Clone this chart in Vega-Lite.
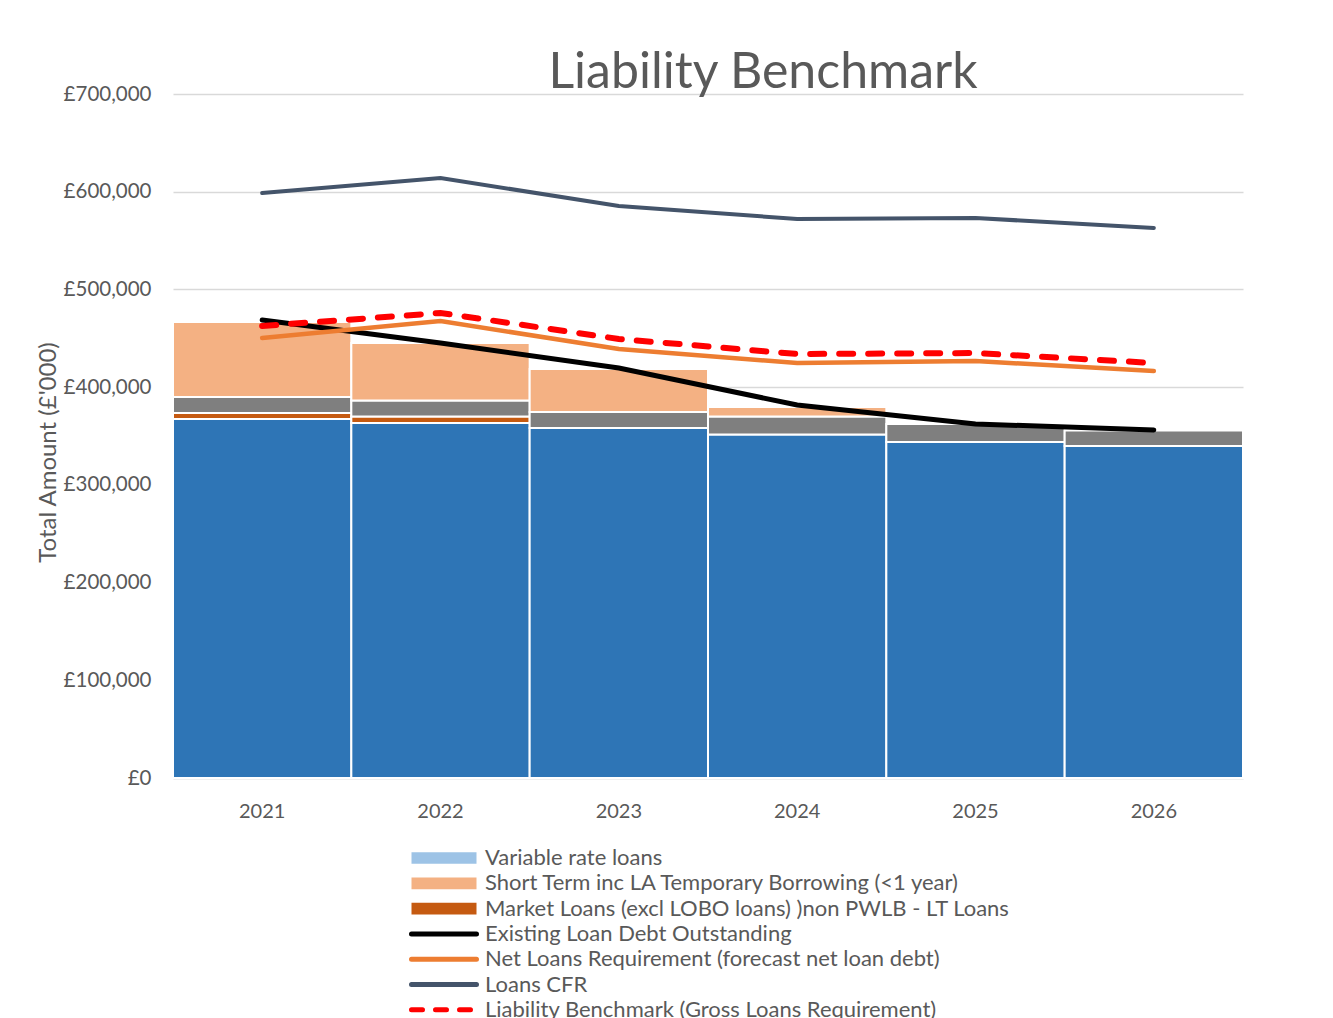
{
  "$schema": "https://vega.github.io/schema/vega-lite/v6.json",
  "autosize": {"type": "none"},
  "width": 1070,
  "height": 684,
  "padding": {"left": 173, "top": 94, "right": 90, "bottom": 240},
  "background": "white",
  "config": {"view": {"stroke": null}, "font": "Lato"},
  "title": {"text": "Liability Benchmark", "fontSize": 50, "font": "Lato", "fontWeight": "normal", "color": "#595959", "anchor": "middle", "dx": 55, "dy": 56, "offset": 2, "baseline": "alphabetic"},
  "datasets": {
    "bars": [
      {"year": "2021", "series": "PWLB Loans", "value": 367400},
      {"year": "2021", "series": "Market Loans (excl LOBO loans) )non PWLB - LT Loans", "value": 6100},
      {"year": "2021", "series": "LOBO Loans", "value": 16400},
      {"year": "2021", "series": "Short Term inc LA Temporary Borrowing (<1 year)", "value": 76800},
      {"year": "2022", "series": "PWLB Loans", "value": 363300},
      {"year": "2022", "series": "Market Loans (excl LOBO loans) )non PWLB - LT Loans", "value": 6600},
      {"year": "2022", "series": "LOBO Loans", "value": 16400},
      {"year": "2022", "series": "Short Term inc LA Temporary Borrowing (<1 year)", "value": 58800},
      {"year": "2023", "series": "PWLB Loans", "value": 358200},
      {"year": "2023", "series": "LOBO Loans", "value": 16400},
      {"year": "2023", "series": "Short Term inc LA Temporary Borrowing (<1 year)", "value": 44000},
      {"year": "2024", "series": "PWLB Loans", "value": 351500},
      {"year": "2024", "series": "LOBO Loans", "value": 18400},
      {"year": "2024", "series": "Short Term inc LA Temporary Borrowing (<1 year)", "value": 9700},
      {"year": "2025", "series": "PWLB Loans", "value": 343900},
      {"year": "2025", "series": "LOBO Loans", "value": 18400},
      {"year": "2026", "series": "PWLB Loans", "value": 339800},
      {"year": "2026", "series": "LOBO Loans", "value": 15900}
    ],
    "lines": [
      {"year": "2021", "series": "Loans CFR", "value": 598700},
      {"year": "2022", "series": "Loans CFR", "value": 614000},
      {"year": "2023", "series": "Loans CFR", "value": 585400},
      {"year": "2024", "series": "Loans CFR", "value": 572100},
      {"year": "2025", "series": "Loans CFR", "value": 573100},
      {"year": "2026", "series": "Loans CFR", "value": 562900},
      {"year": "2021", "series": "Existing Loan Debt Outstanding", "value": 468700},
      {"year": "2022", "series": "Existing Loan Debt Outstanding", "value": 445200},
      {"year": "2023", "series": "Existing Loan Debt Outstanding", "value": 419600},
      {"year": "2024", "series": "Existing Loan Debt Outstanding", "value": 381700},
      {"year": "2025", "series": "Existing Loan Debt Outstanding", "value": 362300},
      {"year": "2026", "series": "Existing Loan Debt Outstanding", "value": 356100},
      {"year": "2021", "series": "Net Loans Requirement (forecast net loan debt)", "value": 450300},
      {"year": "2022", "series": "Net Loans Requirement (forecast net loan debt)", "value": 467700},
      {"year": "2023", "series": "Net Loans Requirement (forecast net loan debt)", "value": 439000},
      {"year": "2024", "series": "Net Loans Requirement (forecast net loan debt)", "value": 424700},
      {"year": "2025", "series": "Net Loans Requirement (forecast net loan debt)", "value": 426700},
      {"year": "2026", "series": "Net Loans Requirement (forecast net loan debt)", "value": 416500},
      {"year": "2021", "series": "Liability Benchmark (Gross Loans Requirement)", "value": 462600},
      {"year": "2022", "series": "Liability Benchmark (Gross Loans Requirement)", "value": 475900},
      {"year": "2023", "series": "Liability Benchmark (Gross Loans Requirement)", "value": 449300},
      {"year": "2024", "series": "Liability Benchmark (Gross Loans Requirement)", "value": 433900},
      {"year": "2025", "series": "Liability Benchmark (Gross Loans Requirement)", "value": 434900},
      {"year": "2026", "series": "Liability Benchmark (Gross Loans Requirement)", "value": 424700}
    ]
  },
  "encoding": {
    "x": {
      "field": "year", "type": "nominal",
      "scale": {"paddingInner": 0, "paddingOuter": 0},
      "axis": {"title": null, "labelAngle": 0, "labelFontSize": 20, "labelColor": "#595959", "labelPadding": 23, "ticks": false, "domain": true, "domainColor": "#d9d9d9", "domainWidth": 1.5}
    },
    "y": {
      "field": "value", "type": "quantitative",
      "scale": {"domain": [0, 700000], "nice": false},
      "axis": {
        "values": [0, 100000, 200000, 300000, 400000, 500000, 600000, 700000],
        "labelExpr": "'£' + format(datum.value, ',')",
        "labelFontSize": 20.5, "labelColor": "#595959", "labelPadding": 22,
        "ticks": false, "domain": false,
        "grid": true, "gridColor": "#d9d9d9", "gridWidth": 1.5,
        "title": "Total Amount (£'000)", "titleFontSize": 24, "titleFontWeight": "normal", "titleColor": "#595959",
        "titleX": -125, "titleY": 358, "titleAlign": "center", "titleBaseline": "middle"
      }
    },
    "color": {
      "field": "series", "type": "nominal",
      "scale": {
        "domain": ["Variable rate loans", "Short Term inc LA Temporary Borrowing (<1 year)", "Market Loans (excl LOBO loans) )non PWLB - LT Loans", "Existing Loan Debt Outstanding", "Net Loans Requirement (forecast net loan debt)", "Loans CFR", "Liability Benchmark (Gross Loans Requirement)", "PWLB Loans", "LOBO Loans"],
        "range": ["#9dc3e6", "#f4b183", "#c55a11", "#000000", "#ed7d31", "#44546a", "#ff0000", "#2e75b6", "#7f7f7f"]
      },
      "legend": {
        "values": ["Variable rate loans", "Short Term inc LA Temporary Borrowing (<1 year)", "Market Loans (excl LOBO loans) )non PWLB - LT Loans", "Existing Loan Debt Outstanding", "Net Loans Requirement (forecast net loan debt)", "Loans CFR", "Liability Benchmark (Gross Loans Requirement)"],
        "title": null, "orient": "none", "legendX": 260, "legendY": 753, "direction": "vertical",
        "labelFontSize": 22, "labelColor": "#595959", "labelOffset": 30, "labelLimit": 900,
        "symbolSize": 4225, "rowPadding": 3.3,
        "encode": {
          "symbols": {
            "update": {
              "shape": {"signal": "datum.index < 3 ? 'M-1,-0.18H1V0.18H-1Z' : 'stroke'"},
              "fill": {"signal": "datum.index < 3 ? scale('color', datum.value) : 'transparent'"},
              "stroke": {"signal": "datum.index < 3 ? 'transparent' : scale('color', datum.value)"},
              "strokeWidth": {"signal": "datum.index < 3 ? 0 : 5"},
              "strokeCap": {"value": "round"},
              "strokeDash": {"signal": "datum.index == 6 ? [11, 13] : [1, 0]"},
              "opacity": {"value": 1}
            }
          }
        }
      }
    }
  },
  "layer": [
    {
      "data": {"name": "bars"},
      "transform": [{"calculate": "indexof(['PWLB Loans', 'Market Loans (excl LOBO loans) )non PWLB - LT Loans', 'LOBO Loans', 'Short Term inc LA Temporary Borrowing (<1 year)', 'Variable rate loans'], datum.series)", "as": "k"}],
      "mark": {"type": "bar", "stroke": "white", "strokeWidth": 2},
      "encoding": {"order": {"field": "k", "type": "quantitative"}}
    },
    {
      "data": {"name": "lines"},
      "transform": [{"filter": "datum.series == 'Loans CFR'"}],
      "mark": {"type": "line", "strokeWidth": 4, "strokeCap": "round"},
      "encoding": {}
    },
    {
      "data": {"name": "lines"},
      "transform": [{"filter": "datum.series == 'Existing Loan Debt Outstanding'"}],
      "mark": {"type": "line", "strokeWidth": 5, "strokeCap": "round"},
      "encoding": {}
    },
    {
      "data": {"name": "lines"},
      "transform": [{"filter": "datum.series == 'Net Loans Requirement (forecast net loan debt)'"}],
      "mark": {"type": "line", "strokeWidth": 4.5, "strokeCap": "round"},
      "encoding": {}
    },
    {
      "data": {"name": "lines"},
      "transform": [{"filter": "datum.series == 'Liability Benchmark (Gross Loans Requirement)'"}],
      "mark": {"type": "line", "strokeWidth": 6, "strokeCap": "round", "strokeDash": [14, 15]},
      "encoding": {}
    }
  ]
}
